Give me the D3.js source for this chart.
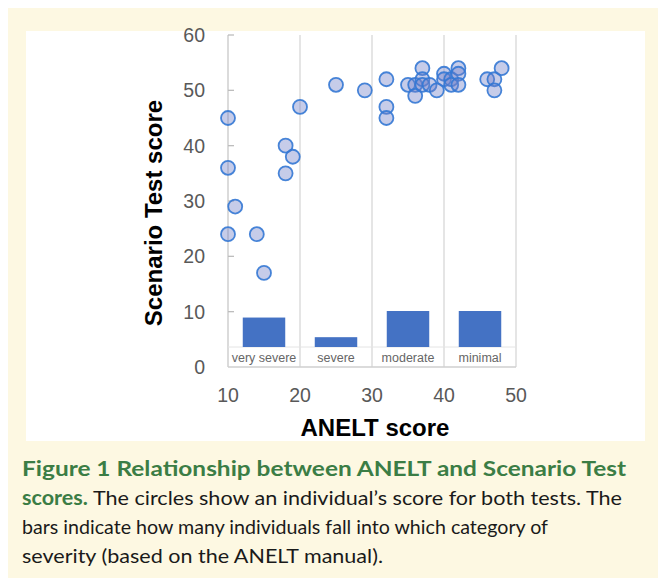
<!DOCTYPE html>
<html>
<head>
<meta charset="utf-8">
<script src="https://cdn.jsdelivr.net/npm/d3@7"></script>
<style>
  html, body { margin: 0; padding: 0; background: #ffffff; }
  svg { display: block; }
</style>
</head>
<body>
<svg id="chart" width="666" height="586"></svg>
<script>
// ---- data ----
const anelt    = [10,10,10,11,14,15,18,19,18,20,25,29,32,32,32,35,36,36,37,37,37,38,39,40,40,41,41,42,42,42,46,47,47,48];
const scenario = [45,36,24,29,24,17,40,38,35,47,51,50,52,47,45,51,51,49,54,52,51,51,50,53,52,52,51,54,53,51,52,52,50,54];
const categories = ["very severe","severe","moderate","minimal"];
const counts = [9,3,11,11];
const xTicks = [10,20,30,40,50];
const yTicks = [0,10,20,30,40,50,60];
const captionLines = [
  [{t:"Figure 1  Relationship between ANELT and Scenario Test", b:true}],
  [{t:"scores.", b:true},{t:" The circles show an individual\u2019s score for both tests. The", b:false}],
  [{t:"bars indicate how many individuals fall into which category of", b:false}],
  [{t:"severity (based on the ANELT manual).", b:false}]
];

const svg = d3.select("#chart");
// panels
svg.append("rect").attr("x",8).attr("y",8).attr("width",650).attr("height",570).attr("fill","#fdf8e2");
svg.append("rect").attr("x",26).attr("y",31).attr("width",619).attr("height",410).attr("fill","#ffffff");

const x = d3.scaleLinear().domain([10,50]).range([228,516]);
const y = d3.scaleLinear().domain([0,60]).range([367,35]);
const band = d3.scaleBand().domain(categories).range([228,516]).paddingInner(0.41).paddingOuter(0.205);
const yb = d3.scaleLinear().domain([0,11]).range([347,311]);

const axisFont = "'Liberation Sans', Arial, sans-serif";

// vertical grid lines
svg.append("g").selectAll("line").data(xTicks.slice(1)).join("line")
  .attr("x1",d=>x(d)).attr("x2",d=>x(d)).attr("y1",y(60)).attr("y2",y(0))
  .attr("stroke","#dcdcdc").attr("stroke-width",1.5);
// y axis line
svg.append("line").attr("x1",x(10)).attr("x2",x(10)).attr("y1",y(60)).attr("y2",y(0))
  .attr("stroke","#cfcfcf").attr("stroke-width",1.5);
// y ticks (inner)
svg.append("g").selectAll("line").data(yTicks.slice(1)).join("line")
  .attr("x1",x(10)).attr("x2",x(10)+6).attr("y1",d=>y(d)).attr("y2",d=>y(d))
  .attr("stroke","#bdbdbd").attr("stroke-width",1.3);
// category box lines
svg.append("line").attr("x1",x(10)).attr("x2",x(50)).attr("y1",yb(0)).attr("y2",yb(0))
  .attr("stroke","#e4e4e4").attr("stroke-width",1);
svg.append("line").attr("x1",x(10)).attr("x2",x(50)).attr("y1",y(0)).attr("y2",y(0))
  .attr("stroke","#cfcfcf").attr("stroke-width",1.3);

// bars
svg.append("g").selectAll("rect").data(categories).join("rect")
  .attr("x",d=>band(d)).attr("width",band.bandwidth())
  .attr("y",(d,i)=>yb(counts[i])).attr("height",(d,i)=>yb(0)-yb(counts[i]))
  .attr("fill","#4472c4");
// category labels
svg.append("g").selectAll("text").data(categories).join("text")
  .attr("x",d=>band(d)+band.bandwidth()/2).attr("y",361.5)
  .attr("text-anchor","middle").attr("font-family",axisFont).attr("font-size",12.5)
  .attr("fill","#666666").text(d=>d);

// points
const pts = anelt.map((a,i)=>({a, s:scenario[i]}));
svg.append("g").selectAll("circle").data(pts).join("circle")
  .attr("cx",d=>x(d.a)).attr("cy",d=>y(d.s)).attr("r",7)
  .attr("fill","rgba(112,128,200,0.4)")
  .attr("stroke","rgba(52,120,212,0.9)").attr("stroke-width",1.8);

// y tick labels
svg.append("g").selectAll("text").data(yTicks).join("text")
  .attr("x",205).attr("y",d=>y(d)+7).attr("text-anchor","end")
  .attr("font-family",axisFont).attr("font-size",19.5).attr("fill","#595959").text(d=>d);
// x tick labels
svg.append("g").selectAll("text").data(xTicks).join("text")
  .attr("x",d=>x(d)).attr("y",402).attr("text-anchor","middle")
  .attr("font-family",axisFont).attr("font-size",19.5).attr("fill","#595959").text(d=>d);

// axis titles
svg.append("text").attr("x",375).attr("y",436).attr("text-anchor","middle")
  .attr("font-family",axisFont).attr("font-weight","bold").attr("font-size",24)
  .attr("fill","#000").text("ANELT score");
svg.append("text").attr("transform","translate(162,213) rotate(-90)").attr("text-anchor","middle")
  .attr("font-family",axisFont).attr("font-weight","bold").attr("font-size",24)
  .attr("fill","#000").text("Scenario Test score");

// caption
const capWidths = [604, 600, 526, 361];
const capY = [476, 505, 534, 563];
captionLines.forEach((line,li)=>{
  const t = svg.append("text").attr("x",22).attr("y",capY[li])
    .attr("font-family","Lato, 'Open Sans', sans-serif").attr("font-size",20)
    .attr("textLength",capWidths[li]).attr("lengthAdjust","spacingAndGlyphs");
  line.forEach(seg=>{
    t.append("tspan").attr("font-weight",seg.b?"bold":"normal")
      .attr("fill",seg.b?"#3b7d45":"#1a1a1a").text(seg.t);
  });
});
</script>
</body>
</html>
